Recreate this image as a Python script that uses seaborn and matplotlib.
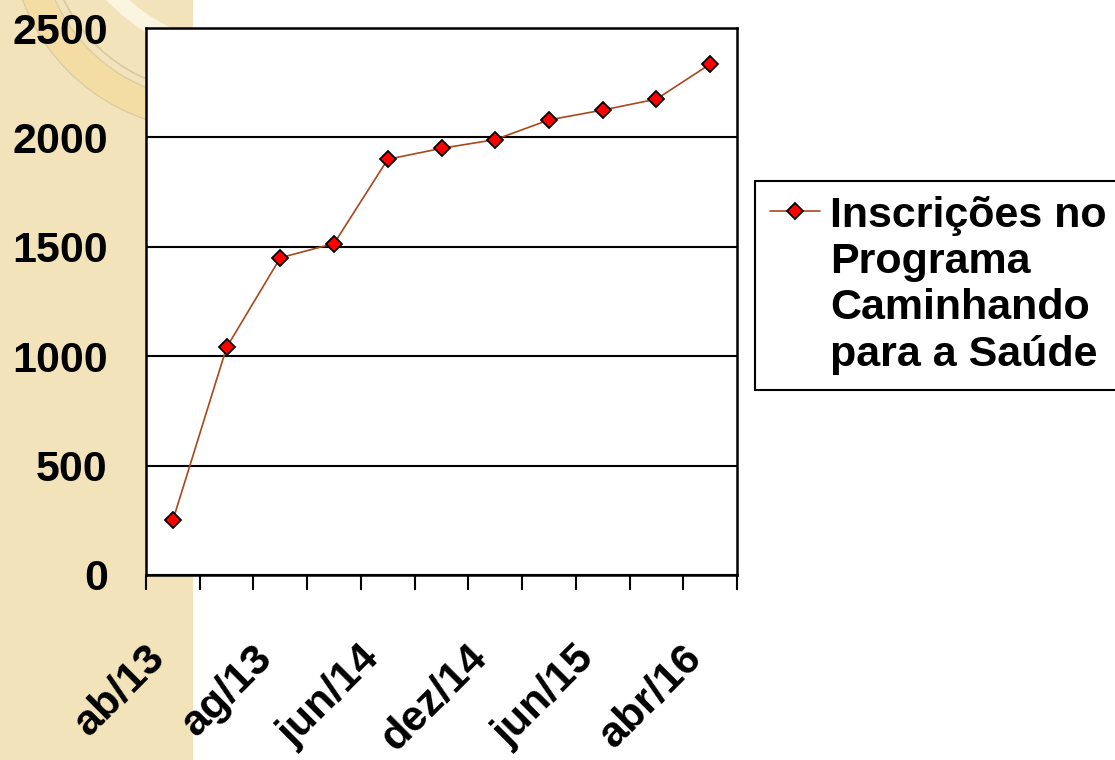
import numpy as np
import pandas as pd
import matplotlib
matplotlib.use('Agg')
import matplotlib.pyplot as plt
import matplotlib.transforms as mtransforms
from matplotlib.patches import Rectangle, Wedge
import seaborn as sns

# inscrições acumuladas
inscricoes = [250, 1040, 1450, 1515, 1900, 1950, 1990, 2080, 2125, 2175, 2335]
rotulos = ['ab/13', 'ag/13', 'jun/14', 'dez/14', 'jun/15', 'abr/16']
y_ticks = [0, 500, 1000, 1500, 2000, 2500]
serie = 'Inscrições no\nPrograma\nCaminhando\npara a Saúde'

df = pd.DataFrame({'ponto': np.arange(len(inscricoes)), 'inscricoes': inscricoes})

sns.set_style('white')
plt.rcParams['font.family'] = ['Liberation Sans', 'DejaVu Sans']
plt.rcParams['font.weight'] = 'bold'
plt.rcParams['text.color'] = 'black'
plt.rcParams['xtick.color'] = 'black'
plt.rcParams['ytick.color'] = 'black'

W, H = 1115, 760
fig = plt.figure(figsize=(W / 100, H / 100), dpi=100)
fig.patch.set_facecolor('white')

# faixa decorativa bege à esquerda (fundo do slide)
px = mtransforms.Affine2D().scale(1 / W, -1 / H).translate(0, 1) + fig.transFigure
faixa = Rectangle((0, 0), 193, H, transform=px, facecolor='#F2E3BA',
                  edgecolor='none', zorder=-3)
fig.patches.append(faixa)
arcos = [
    Wedge((210, -70), 200, 90, 270, width=30, transform=px,
          facecolor='#F3DDA2', edgecolor='#D9CBA6', lw=1, zorder=-2),
    Wedge((210, -70), 162, 90, 270, width=0.1, transform=px,
          facecolor='none', edgecolor='#D9CBA6', lw=1, zorder=-2),
    Wedge((260, -150), 215, 90, 270, width=16, transform=px,
          facecolor='#FBF4DE', edgecolor='none', zorder=-2),
]
for a in arcos:
    fig.patches.append(a)
    a.set_clip_path(faixa)

ax = fig.add_axes([146 / W, 1 - 575 / H, (737 - 146) / W, (575 - 28) / H])
ax.set_facecolor('white')

sns.lineplot(data=df, x='ponto', y='inscricoes', ax=ax, color='#A8481C', lw=1.2,
             marker='D', markersize=8.5, markerfacecolor='#FF0000',
             markeredgecolor='black', markeredgewidth=1.3, label=serie)

ax.set_xlim(-0.5, len(inscricoes) - 0.5)
ax.set_ylim(0, 2500)
ax.set_yticks(y_ticks)
ax.set_yticklabels([str(v) for v in y_ticks])
ax.set_xticks(np.arange(0, len(inscricoes), 2))
ax.set_xticklabels(rotulos, rotation=45, ha='right', va='top')
ax.set_xticks(np.arange(-0.5, len(inscricoes), 1), minor=True)
ax.set_xlabel('')
ax.set_ylabel('')

ax.grid(axis='y', color='black', lw=1.5)
ax.set_axisbelow(True)
for s in ax.spines.values():
    s.set_color('black')
    s.set_linewidth(1.8)
    s.set_visible(True)

ax.tick_params(axis='y', which='major', direction='out', length=11.5, width=1.5,
               color='black', pad=16, labelsize=31, labelcolor='black')
ax.tick_params(axis='x', which='major', length=0, pad=45, labelsize=31,
               labelcolor='black')
ax.tick_params(axis='x', which='minor', direction='out', length=11, width=1.5,
               color='black', bottom=True)
for lab in ax.get_xticklabels() + ax.get_yticklabels():
    lab.set_fontweight('bold')

leg = ax.legend(loc='upper left', bbox_to_anchor=(755 / W, 1 - 181 / H),
                bbox_transform=fig.transFigure, borderaxespad=0,
                frameon=True, fancybox=False, edgecolor='black', framealpha=1,
                handlelength=1.15, handletextpad=0.25, borderpad=0.35,
                labelcolor='black', prop={'weight': 'bold', 'size': 31})
leg.get_frame().set_linewidth(1.5)
for hp in leg._legend_handle_box.get_children()[0].get_children():
    hp.align = 'top'

fig.savefig('out.png', dpi=100)
